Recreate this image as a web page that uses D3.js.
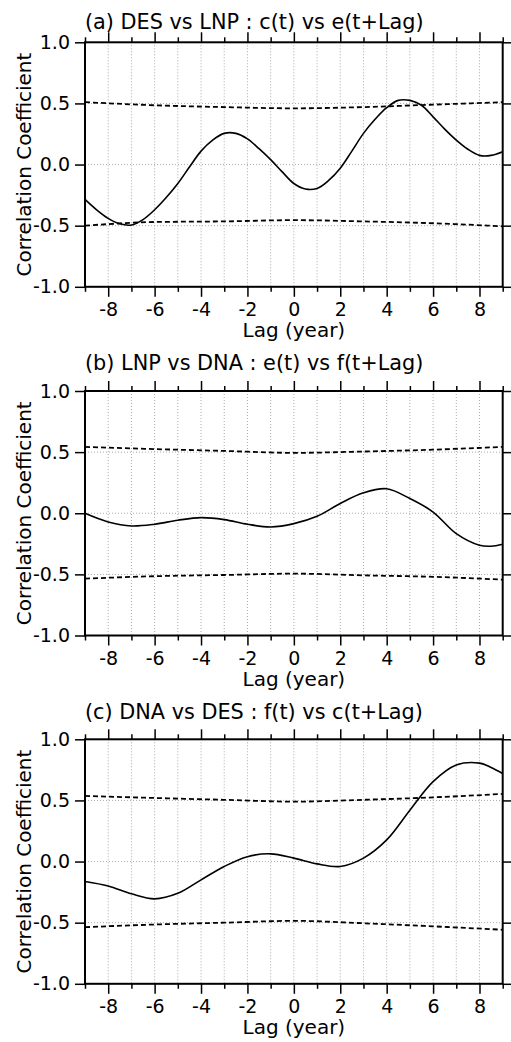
<!DOCTYPE html>
<html>
<head>
<meta charset="utf-8">
<script src="https://cdnjs.cloudflare.com/ajax/libs/d3/7.8.5/d3.min.js"></script>
<style>
  body { margin: 0; background: #fff; }
  svg { display: block; }
  text { font-family: "DejaVu Sans", Arial, Helvetica, sans-serif; fill: #000; }
</style>
</head>
<body>
<svg id="chart" width="511" height="1042"></svg>
<script>
// data
var lagsA = [-9, -8.5, -8, -7.5, -7, -6.5, -6, -5.5, -5, -4.5, -4, -3.5, -3, -2.5, -2, -1.5, -1, -0.5,
             0, 0.5, 1, 1.5, 2, 2.5, 3, 3.5, 4, 4.5, 5, 5.5, 6, 6.5, 7, 7.5, 8, 8.5, 9];
var corrA = [-0.285, -0.37, -0.44, -0.485, -0.495, -0.45, -0.37, -0.27, -0.155, -0.02, 0.11, 0.20, 0.255, 0.255, 0.21, 0.13, 0.04, -0.06,
             -0.155, -0.2, -0.195, -0.13, -0.03, 0.11, 0.255, 0.37, 0.465, 0.525, 0.525, 0.485, 0.39, 0.29, 0.2, 0.125, 0.075, 0.075, 0.105];

var lagsBC = [-9, -8, -7, -6, -5, -4, -3, -2, -1, 0, 1, 2, 3, 4, 5, 6, 7, 8, 8.5, 9];
var corrB = [0.0, -0.071, -0.104, -0.09, -0.057, -0.036, -0.052, -0.09, -0.112, -0.085, -0.025, 0.08, 0.167, 0.2, 0.12, 0.01, -0.167, -0.262, -0.27, -0.254];
var corrC = [-0.163, -0.2, -0.264, -0.305, -0.26, -0.15, -0.04, 0.04, 0.063, 0.028, -0.019, -0.04, 0.028, 0.177, 0.42, 0.654, 0.79, 0.805, 0.77, 0.72];

var bandLags = [-9, -6, -3, 0, 3, 6, 9];
var upperA = [0.51, 0.485, 0.47, 0.46, 0.47, 0.49, 0.51];
var lowerA = [-0.50, -0.47, -0.465, -0.455, -0.465, -0.48, -0.505];
var upperB = [0.543, 0.525, 0.51, 0.494, 0.505, 0.52, 0.543];
var lowerB = [-0.535, -0.515, -0.505, -0.494, -0.508, -0.52, -0.543];
var upperC = [0.537, 0.52, 0.505, 0.49, 0.505, 0.525, 0.553];
var lowerC = [-0.537, -0.515, -0.5, -0.485, -0.505, -0.53, -0.558];

var titles = ["(a) DES vs LNP : c(t) vs e(t+Lag)",
              "(b) LNP vs DNA : e(t) vs f(t+Lag)",
              "(c) DNA vs DES : f(t) vs c(t+Lag)"];
var xMajor = [-8, -6, -4, -2, 0, 2, 4, 6, 8];
var xMinor = [-9, -7, -5, -3, -1, 1, 3, 5, 7, 9];
var xGrid = d3.range(-8, 9);
var yTicks = [-1.0, -0.5, 0.0, 0.5, 1.0];
var yGrid = [-0.5, 0.0, 0.5];

var panels = [
    { top: 42.3, titleY: 29, lags: lagsA, corr: corrA, upper: upperA, lower: lowerA },
    { top: 391, titleY: 370, lags: lagsBC, corr: corrB, upper: upperB, lower: lowerB },
    { top: 739.3, titleY: 718.5, lags: lagsBC, corr: corrC, upper: upperC, lower: lowerC }
];

var left = 85, right = 502.7, plotH = 244.5;
var svg = d3.select('#chart');
var x = d3.scaleLinear().domain([-9, 9]).range([left, right]);

panels.forEach(function(p, i) {
    var y = d3.scaleLinear().domain([-1, 1]).range([p.top + plotH, p.top]);
    var g = svg.append('g');

    // dotted grid
    g.selectAll('.vgrid').data(xGrid).enter().append('line')
        .attr('x1', function(d) { return x(d); }).attr('x2', function(d) { return x(d); })
        .attr('y1', p.top).attr('y2', p.top + plotH)
        .attr('stroke', '#aaa').attr('stroke-width', 1).attr('stroke-dasharray', '1,2');
    g.selectAll('.hgrid').data(yGrid).enter().append('line')
        .attr('x1', left).attr('x2', right)
        .attr('y1', function(d) { return y(d); }).attr('y2', function(d) { return y(d); })
        .attr('stroke', '#aaa').attr('stroke-width', 1).attr('stroke-dasharray', '1,2');

    // significance bands
    var bandLine = d3.line()
        .x(function(d, k) { return x(bandLags[k]); })
        .y(function(d) { return y(d); })
        .curve(d3.curveMonotoneX);
    [p.upper, p.lower].forEach(function(band) {
        g.append('path').attr('d', bandLine(band))
            .attr('fill', 'none').attr('stroke', '#000').attr('stroke-width', 1.8)
            .attr('stroke-dasharray', '5,3');
    });

    // correlation curve
    var line = d3.line()
        .x(function(d, k) { return x(p.lags[k]); })
        .y(function(d) { return y(d); })
        .curve(d3.curveCatmullRom);
    g.append('path').attr('d', line(p.corr))
        .attr('fill', 'none').attr('stroke', '#000').attr('stroke-width', 1.6);

    // axes
    var bottom = p.top + plotH;
    g.append('g').attr('transform', 'translate(0,' + bottom + ')')
        .call(d3.axisBottom(x).tickValues(xMajor).tickSize(10).tickSizeOuter(0).tickPadding(6)
            .tickFormat(function(d) { return d; }));
    g.append('g').attr('transform', 'translate(0,' + bottom + ')')
        .call(d3.axisBottom(x).tickValues(xMinor).tickSize(5).tickSizeOuter(0).tickFormat(''));
    g.append('g').attr('transform', 'translate(0,' + p.top + ')')
        .call(d3.axisTop(x).tickValues(xMajor).tickSize(10).tickSizeOuter(0).tickFormat(''));
    g.append('g').attr('transform', 'translate(0,' + p.top + ')')
        .call(d3.axisTop(x).tickValues(xMinor).tickSize(5).tickSizeOuter(0).tickFormat(''));
    g.append('g').attr('transform', 'translate(' + left + ',0)')
        .call(d3.axisLeft(y).tickValues(yTicks).tickSize(10).tickSizeOuter(0).tickPadding(5)
            .tickFormat(function(d) { return d.toFixed(1); }));
    g.append('g').attr('transform', 'translate(' + right + ',0)')
        .call(d3.axisRight(y).tickValues(yTicks).tickSize(10).tickSizeOuter(0).tickFormat(''));

    g.selectAll('.domain').remove();
    g.selectAll('.tick line').attr('stroke', '#000').attr('stroke-width', 1.5);
    g.selectAll('.tick text').style('font-size', '19px')
        .style('font-family', '"DejaVu Sans", Arial, sans-serif').attr('fill', '#000');

    g.append('rect').attr('x', left).attr('y', p.top)
        .attr('width', right - left).attr('height', plotH)
        .attr('fill', 'none').attr('stroke', '#000').attr('stroke-width', 2);

    // labels
    g.append('text').attr('x', left).attr('y', p.titleY)
        .style('font-size', '20.8px').text(titles[i]);
    g.append('text').attr('x', x(0)).attr('y', bottom + 50.5)
        .attr('text-anchor', 'middle').style('font-size', '20px').text('Lag (year)');
    g.append('text')
        .attr('transform', 'translate(31,' + (p.top + plotH / 2) + ') rotate(-90)')
        .attr('text-anchor', 'middle').style('font-size', '20px').text('Correlation Coefficient');
});
</script>
</body>
</html>
